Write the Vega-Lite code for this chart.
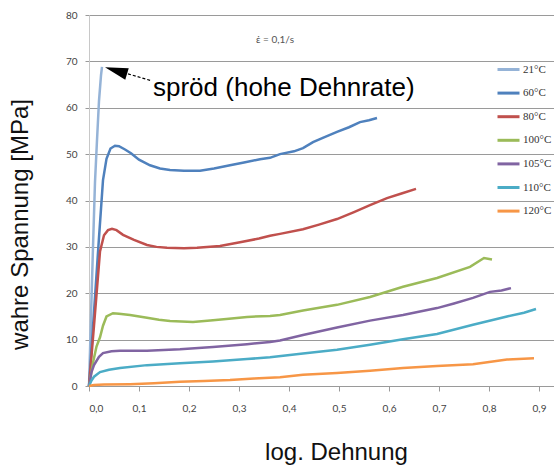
{
  "$schema": "https://vega.github.io/schema/vega-lite/v6.json",
  "width": 465,
  "height": 371,
  "autosize": "none",
  "padding": {"left": 89, "top": 15, "right": 0, "bottom": 86},
  "background": "white",
  "config": {"view": {"stroke": null}},
  "datasets": {
    "curves": [
      {"T":"21°C","e":0,"s":0},{"T":"21°C","e":0.004,"s":15},{"T":"21°C","e":0.008,"s":30},{"T":"21°C","e":0.012,"s":44},{"T":"21°C","e":0.016,"s":53},{"T":"21°C","e":0.02,"s":61.5},{"T":"21°C","e":0.024,"s":67},{"T":"21°C","e":0.026,"s":68.8},
      {"T":"60°C","e":0,"s":0},{"T":"60°C","e":0.01,"s":16},{"T":"60°C","e":0.02,"s":32},{"T":"60°C","e":0.028,"s":44.4},{"T":"60°C","e":0.035,"s":49},{"T":"60°C","e":0.043,"s":51.2},{"T":"60°C","e":0.052,"s":51.8},{"T":"60°C","e":0.06,"s":51.7},{"T":"60°C","e":0.072,"s":51},{"T":"60°C","e":0.084,"s":50.2},{"T":"60°C","e":0.1,"s":48.8},{"T":"60°C","e":0.122,"s":47.6},{"T":"60°C","e":0.142,"s":46.9},{"T":"60°C","e":0.162,"s":46.6},{"T":"60°C","e":0.19,"s":46.4},{"T":"60°C","e":0.222,"s":46.4},{"T":"60°C","e":0.25,"s":46.9},{"T":"60°C","e":0.282,"s":47.6},{"T":"60°C","e":0.31,"s":48.2},{"T":"60°C","e":0.342,"s":48.9},{"T":"60°C","e":0.362,"s":49.2},{"T":"60°C","e":0.382,"s":50.0},{"T":"60°C","e":0.41,"s":50.6},{"T":"60°C","e":0.428,"s":51.3},{"T":"60°C","e":0.448,"s":52.6},{"T":"60°C","e":0.47,"s":53.6},{"T":"60°C","e":0.496,"s":54.8},{"T":"60°C","e":0.52,"s":55.8},{"T":"60°C","e":0.542,"s":56.9},{"T":"60°C","e":0.56,"s":57.3},{"T":"60°C","e":0.576,"s":57.8},
      {"T":"80°C","e":0,"s":0},{"T":"80°C","e":0.01,"s":13},{"T":"80°C","e":0.022,"s":29},{"T":"80°C","e":0.03,"s":32.5},{"T":"80°C","e":0.038,"s":33.6},{"T":"80°C","e":0.046,"s":33.9},{"T":"80°C","e":0.055,"s":33.6},{"T":"80°C","e":0.068,"s":32.6},{"T":"80°C","e":0.09,"s":31.5},{"T":"80°C","e":0.116,"s":30.4},{"T":"80°C","e":0.135,"s":30},{"T":"80°C","e":0.156,"s":29.8},{"T":"80°C","e":0.19,"s":29.7},{"T":"80°C","e":0.216,"s":29.8},{"T":"80°C","e":0.262,"s":30.2},{"T":"80°C","e":0.302,"s":31.0},{"T":"80°C","e":0.34,"s":31.8},{"T":"80°C","e":0.362,"s":32.4},{"T":"80°C","e":0.382,"s":32.8},{"T":"80°C","e":0.428,"s":33.8},{"T":"80°C","e":0.46,"s":34.8},{"T":"80°C","e":0.496,"s":36.0},{"T":"80°C","e":0.53,"s":37.5},{"T":"80°C","e":0.562,"s":39.0},{"T":"80°C","e":0.596,"s":40.5},{"T":"80°C","e":0.625,"s":41.5},{"T":"80°C","e":0.654,"s":42.5},
      {"T":"100°C","e":0,"s":0},{"T":"100°C","e":0.008,"s":5},{"T":"100°C","e":0.015,"s":8.5},{"T":"100°C","e":0.022,"s":10.5},{"T":"100°C","e":0.028,"s":13},{"T":"100°C","e":0.035,"s":15},{"T":"100°C","e":0.048,"s":15.7},{"T":"100°C","e":0.06,"s":15.6},{"T":"100°C","e":0.082,"s":15.3},{"T":"100°C","e":0.116,"s":14.7},{"T":"100°C","e":0.14,"s":14.3},{"T":"100°C","e":0.162,"s":14.0},{"T":"100°C","e":0.208,"s":13.8},{"T":"100°C","e":0.248,"s":14.2},{"T":"100°C","e":0.28,"s":14.5},{"T":"100°C","e":0.316,"s":14.9},{"T":"100°C","e":0.362,"s":15.1},{"T":"100°C","e":0.382,"s":15.3},{"T":"100°C","e":0.428,"s":16.3},{"T":"100°C","e":0.496,"s":17.5},{"T":"100°C","e":0.562,"s":19.2},{"T":"100°C","e":0.628,"s":21.4},{"T":"100°C","e":0.696,"s":23.3},{"T":"100°C","e":0.762,"s":25.7},{"T":"100°C","e":0.79,"s":27.6},{"T":"100°C","e":0.806,"s":27.3},
      {"T":"105°C","e":0,"s":0},{"T":"105°C","e":0.005,"s":3},{"T":"105°C","e":0.01,"s":4.5},{"T":"105°C","e":0.02,"s":6.3},{"T":"105°C","e":0.028,"s":7.1},{"T":"105°C","e":0.045,"s":7.5},{"T":"105°C","e":0.062,"s":7.6},{"T":"105°C","e":0.116,"s":7.6},{"T":"105°C","e":0.182,"s":7.9},{"T":"105°C","e":0.248,"s":8.4},{"T":"105°C","e":0.316,"s":9.0},{"T":"105°C","e":0.362,"s":9.5},{"T":"105°C","e":0.382,"s":9.8},{"T":"105°C","e":0.428,"s":11.0},{"T":"105°C","e":0.496,"s":12.6},{"T":"105°C","e":0.562,"s":14.1},{"T":"105°C","e":0.628,"s":15.3},{"T":"105°C","e":0.696,"s":16.8},{"T":"105°C","e":0.73,"s":17.8},{"T":"105°C","e":0.768,"s":19.0},{"T":"105°C","e":0.802,"s":20.3},{"T":"105°C","e":0.825,"s":20.6},{"T":"105°C","e":0.844,"s":21.1},
      {"T":"110°C","e":0,"s":0},{"T":"110°C","e":0.005,"s":1.2},{"T":"110°C","e":0.01,"s":2.0},{"T":"110°C","e":0.022,"s":3.0},{"T":"110°C","e":0.04,"s":3.5},{"T":"110°C","e":0.062,"s":3.9},{"T":"110°C","e":0.116,"s":4.5},{"T":"110°C","e":0.182,"s":4.9},{"T":"110°C","e":0.248,"s":5.3},{"T":"110°C","e":0.316,"s":5.8},{"T":"110°C","e":0.362,"s":6.2},{"T":"110°C","e":0.428,"s":7.0},{"T":"110°C","e":0.496,"s":7.8},{"T":"110°C","e":0.562,"s":8.9},{"T":"110°C","e":0.628,"s":10.1},{"T":"110°C","e":0.696,"s":11.2},{"T":"110°C","e":0.768,"s":13.2},{"T":"110°C","e":0.836,"s":15.0},{"T":"110°C","e":0.87,"s":15.8},{"T":"110°C","e":0.894,"s":16.6},
      {"T":"120°C","e":0,"s":0},{"T":"120°C","e":0.01,"s":0.2},{"T":"120°C","e":0.03,"s":0.3},{"T":"120°C","e":0.082,"s":0.4},{"T":"120°C","e":0.13,"s":0.6},{"T":"120°C","e":0.182,"s":0.9},{"T":"120°C","e":0.23,"s":1.1},{"T":"120°C","e":0.282,"s":1.3},{"T":"120°C","e":0.33,"s":1.6},{"T":"120°C","e":0.382,"s":1.9},{"T":"120°C","e":0.428,"s":2.4},{"T":"120°C","e":0.496,"s":2.8},{"T":"120°C","e":0.562,"s":3.3},{"T":"120°C","e":0.628,"s":3.9},{"T":"120°C","e":0.696,"s":4.3},{"T":"120°C","e":0.768,"s":4.7},{"T":"120°C","e":0.836,"s":5.7},{"T":"120°C","e":0.89,"s":6.0}
    ],
    "notes": [
      {"label": "spröd (hohe Dehnrate)", "e": 0.128, "s": 62.5}
    ],
    "rate": [
      {"label": "ε̇ = 0,1/s", "e": 0.334, "s": 74.0}
    ],
    "shaft": [
      {"e": 0.078, "s": 67.3, "e2": 0.126, "s2": 65.8}
    ],
    "head": [
      {"e": 0.054, "s": 68.0}
    ]
  },
  "layer": [
    {
      "data": {"name": "curves"},
      "mark": {"type": "line", "strokeWidth": 2.5, "interpolate": "linear"},
      "encoding": {
        "x": {
          "field": "e", "type": "quantitative",
          "scale": {"domain": [0, 0.93], "nice": false, "zero": false},
          "axis": {
            "values": [0, 0.1, 0.2, 0.3, 0.4, 0.5, 0.6, 0.7, 0.8, 0.9],
            "labelExpr": "replace(format(datum.value, '.1f'), '.', ',')",
            "grid": false,
            "domainColor": "#9a9a9a",
            "tickColor": "#9a9a9a",
            "tickSize": 5,
            "labelPadding": 12,
            "labelFont": "Lato",
            "labelFontSize": 10,
            "labelColor": "#444444",
            "title": "log. Dehnung",
            "titleFont": "Liberation Sans",
            "titleFontSize": 24,
            "titleFontWeight": "normal",
            "titleColor": "#111111",
            "titleX": 247,
            "titleY": 73,
            "titleAlign": "center",
            "titleBaseline": "alphabetic"
          }
        },
        "y": {
          "field": "s", "type": "quantitative",
          "scale": {"domain": [0, 80], "nice": false},
          "axis": {
            "values": [0, 10, 20, 30, 40, 50, 60, 70, 80],
            "format": "d",
            "grid": true,
            "gridColor": "#9a9a9a",
            "gridWidth": 1.2,
            "domainColor": "#c8c8c8",
            "tickColor": "#9a9a9a",
            "tickSize": 4,
            "labelPadding": 8,
            "labelFont": "Lato",
            "labelFontSize": 10,
            "labelColor": "#444444",
            "title": "wahre Spannung [MPa]",
            "titleFont": "Liberation Sans",
            "titleFontSize": 24,
            "titleFontWeight": "normal",
            "titleColor": "#111111",
            "titleAngle": -90,
            "titleX": -62,
            "titleY": 209,
            "titleAlign": "center",
            "titleBaseline": "alphabetic"
          }
        },
        "color": {
          "field": "T", "type": "nominal",
          "scale": {
            "domain": ["21°C", "60°C", "80°C", "100°C", "105°C", "110°C", "120°C"],
            "range": ["#95B3D7", "#4F81BD", "#C0504D", "#9BBB59", "#8064A2", "#4BACC6", "#F79646"]
          },
          "legend": {
            "orient": "none",
            "legendX": 407,
            "legendY": 42,
            "title": null,
            "symbolType": "stroke",
            "symbolSize": 484,
            "symbolStrokeWidth": 3,
            "labelFont": "Liberation Serif",
            "labelFontSize": 11,
            "labelColor": "#333333",
            "labelOffset": 2,
            "rowPadding": 4.6,
            "padding": 0
          }
        }
      }
    },
    {
      "data": {"name": "notes"},
      "mark": {"type": "text", "align": "left", "baseline": "alphabetic", "font": "Liberation Sans", "fontSize": 26, "color": "#000000"},
      "encoding": {
        "x": {"field": "e", "type": "quantitative"},
        "y": {"field": "s", "type": "quantitative"},
        "text": {"field": "label"}
      }
    },
    {
      "data": {"name": "rate"},
      "mark": {"type": "text", "align": "left", "baseline": "alphabetic", "font": "Lato", "fontSize": 10, "color": "#555555"},
      "encoding": {
        "x": {"field": "e", "type": "quantitative"},
        "y": {"field": "s", "type": "quantitative"},
        "text": {"field": "label"}
      }
    },
    {
      "data": {"name": "shaft"},
      "mark": {"type": "rule", "color": "#000000", "strokeWidth": 1.2, "strokeDash": [3, 2]},
      "encoding": {
        "x": {"field": "e", "type": "quantitative"},
        "y": {"field": "s", "type": "quantitative"},
        "x2": {"field": "e2"},
        "y2": {"field": "s2"}
      }
    },
    {
      "data": {"name": "head"},
      "mark": {"type": "point", "shape": "M0,-1L0.52,1L-0.52,1Z", "size": 529, "angle": 287, "filled": true, "color": "#000000", "opacity": 1},
      "encoding": {
        "x": {"field": "e", "type": "quantitative"},
        "y": {"field": "s", "type": "quantitative"}
      }
    }
  ]
}
